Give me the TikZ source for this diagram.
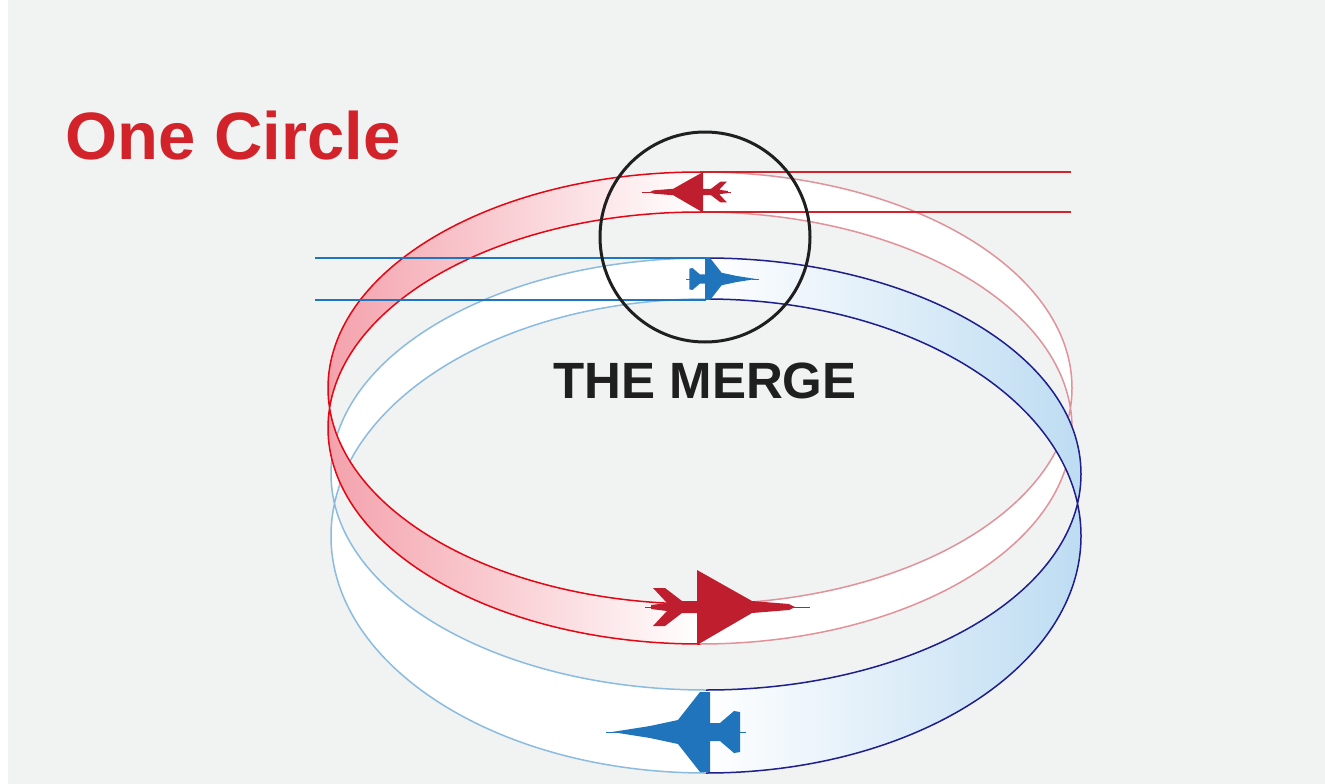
\documentclass[tikz,border=0pt]{standalone}
\usepackage{fontspec}
\setmainfont{Liberation Sans}
\begin{document}
\definecolor{bg}{HTML}{F1F2F2}
\definecolor{redT}{HTML}{D2232A}
\definecolor{redL}{HTML}{E30613}
\definecolor{pinkL}{HTML}{E0939B}
\definecolor{redF}{HTML}{F4A2AC}
\definecolor{planeR}{HTML}{BE1E2D}
\definecolor{planeB}{HTML}{1F74BC}
\definecolor{blueL}{HTML}{8BBCE0}
\definecolor{navy}{HTML}{1E1E8C}
\definecolor{blueF}{HTML}{BDDCF2}
\definecolor{blueH}{HTML}{1F75BE}
\begin{tikzpicture}[x=1pt,y=-1pt,
  edge/.style={line width=1.5pt},
  redplane/.pic={\fill (98,0)--(92,-3)--(55,-6)--(0,-37)--(0,-6)--(-15,-6)--(-32,-19)--(-44,-19)--(-30,-4)--(-46,-2)--(-46,2)--(-30,4)--(-44,19)--(-32,19)--(-15,6)--(0,6)--(0,38)--(55,6)--(92,3)--cycle;
    \draw[line width=0.6pt] (90,0)--(113,0) (-52,0)--(-40,0);},
  blueplane/.pic={\fill (98,0)--(60,-6)--(32,-12)--(10,-40)--(0,-40)--(0,-9)--(-10,-9)--(-24,-21)--(-30,-20)--(-30,-3)--(-30,3)--(-30,20)--(-24,21)--(-10,9)--(0,9)--(0,40)--(10,40)--(32,12)--(60,6)--cycle;
    \draw[line width=0.6pt] (90,0)--(104,0) (-36,0)--(-25,0);}
]
\useasboundingbox (0,0) rectangle (1325,784);
\fill[bg] (8,0) rectangle (1325,784);
% ---- red ribbon, back (right) half
\begin{scope}
 \clip (700,0) rectangle (1325,784);
 \fill[white,even odd rule] (700,388) ellipse (372 and 216) (700,428) ellipse (372 and 216);
 \draw[pinkL,edge] (700,388) ellipse (372 and 216) (700,428) ellipse (372 and 216);
\end{scope}
% ---- blue ribbon
\begin{scope}
 \clip (0,0) rectangle (706,784);
 \fill[white,even odd rule] (706,474) ellipse (375 and 216) (706,536) ellipse (375 and 237);
 \draw[blueL,edge] (706,474) ellipse (375 and 216) (706,536) ellipse (375 and 237);
\end{scope}
\begin{scope}
 \clip (706,0) rectangle (1325,784);
 \begin{scope}[even odd rule]
  \clip (706,474) ellipse (375 and 216) (706,536) ellipse (375 and 237);
  \shade[left color=white,right color=blueF] (706,200) rectangle (1082,784);
 \end{scope}
 \draw[navy,edge] (706,474) ellipse (375 and 216) (706,536) ellipse (375 and 237);
\end{scope}
% ---- red ribbon, front (left) half
\begin{scope}
 \clip (0,0) rectangle (700,784);
 \begin{scope}[even odd rule]
  \clip (700,388) ellipse (372 and 216) (700,428) ellipse (372 and 216);
  \shade[left color=redF,right color=white] (327,150) rectangle (700,660);
 \end{scope}
 \draw[redL,edge] (700,388) ellipse (372 and 216) (700,428) ellipse (372 and 216);
\end{scope}
% ---- straight tracks
\draw[redT,edge] (700,172) -- (1071,172) (700,212) -- (1071,212);
\draw[blueH,edge] (315,258) -- (706,258) (315,300) -- (706,300);
% ---- planes
\pic[planeR] at (697,607) {redplane};
\pic[planeR,xscale=-0.54,yscale=0.54] at (703,192) {redplane};
\pic[planeB,xscale=-1] at (710,732) {blueplane};
\pic[planeB,scale=0.52] at (705,279) {blueplane};
% ---- merge circle
\draw[black!88,line width=3pt] (705,237) circle (105);
\node[text=black!88,font=\bfseries\fontsize{51}{51}\selectfont,anchor=base] (merge) at (705,398) {THE MERGE};
\node[text=redT,font=\bfseries\fontsize{67}{67}\selectfont,anchor=base west] (title) at (62,159) {One Circle};
\end{tikzpicture}
\end{document}
